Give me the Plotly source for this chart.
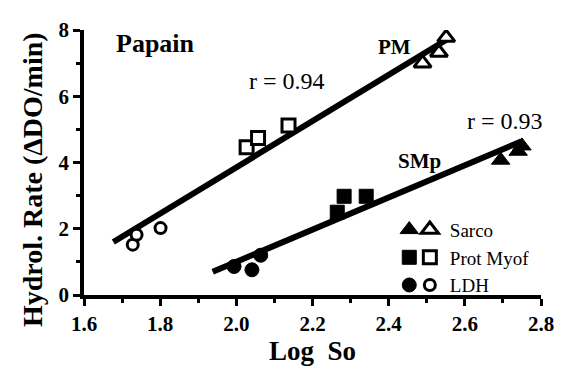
import plotly.graph_objects as go

# ---- data ----
# PM (open symbols)
pm_ldh_x = [1.728, 1.738, 1.801]
pm_ldh_y = [1.52, 1.82, 2.02]
pm_myof_x = [2.027, 2.057, 2.137]
pm_myof_y = [4.46, 4.74, 5.12]
pm_sarco_x = [2.489, 2.532, 2.551]
pm_sarco_y = [7.00, 7.32, 7.77]
# SMp (filled symbols)
smp_ldh_x = [1.994, 2.041, 2.064]
smp_ldh_y = [0.86, 0.76, 1.20]
smp_myof_x = [2.265, 2.283, 2.341]
smp_myof_y = [2.50, 2.98, 2.98]
smp_sarco_x = [2.694, 2.740, 2.750]
smp_sarco_y = [4.07, 4.34, 4.50]
# regression lines (end points)
pm_fit_x = [1.677, 2.554]
pm_fit_y = [1.60, 7.72]
smp_fit_x = [1.938, 2.749]
smp_fit_y = [0.70, 4.64]

xticks = [1.6, 1.8, 2.0, 2.2, 2.4, 2.6, 2.8]
xticklabels = ["1.6", "1.8", "2.0", "2.2", "2.4", "2.6", "2.8"]
yticks = [0, 2, 4, 6, 8]

SERIF = "Liberation Serif, Times New Roman, Times, serif"
fig = go.Figure()

fig.add_trace(go.Scatter(x=pm_fit_x, y=pm_fit_y, mode="lines",
                         line=dict(color="black", width=6), showlegend=False))
fig.add_trace(go.Scatter(x=smp_fit_x, y=smp_fit_y, mode="lines",
                         line=dict(color="black", width=6), showlegend=False))

filled = [("Sarco", smp_sarco_x, smp_sarco_y, "triangle-up", 16),
          ("Prot Myof", smp_myof_x, smp_myof_y, "square", 14),
          ("LDH", smp_ldh_x, smp_ldh_y, "circle", 14)]
opened = [("Sarco", pm_sarco_x, pm_sarco_y, "triangle-up", 15),
          ("Prot Myof", pm_myof_x, pm_myof_y, "square", 13),
          ("LDH", pm_ldh_x, pm_ldh_y, "circle", 11)]

for name, xs, ys, sym, sz in filled:
    fig.add_trace(go.Scatter(x=xs, y=ys, mode="markers", name="",
                             legend="legend",
                             marker=dict(symbol=sym, size=sz, color="black",
                                         line=dict(color="black", width=1))))
for name, xs, ys, sym, sz in opened:
    fig.add_trace(go.Scatter(x=xs, y=ys, mode="markers", name=name,
                             legend="legend2",
                             marker=dict(symbol=sym, size=sz, color="white",
                                         line=dict(color="black", width=3))))

def txt(x, y, text, size):
    fig.add_annotation(x=x, y=y, text=text, showarrow=False,
                       font=dict(family=SERIF, size=size, color="black"))

txt(1.788, 7.6, "<b>Papain</b>", 26)
txt(2.415, 7.5, "<b>PM</b>", 21)
txt(2.132, 6.45, "r = 0.94", 24)
txt(2.705, 5.24, "r = 0.93", 24)
txt(2.48, 4.05, "<b>SMp</b>", 21)

# y-axis title (placed as a rotated annotation to match its position)
fig.add_annotation(x=-0.114, y=0.437, xref="paper", yref="paper", textangle=-90,
                   xanchor="center", yanchor="middle",
                   text="<b>Hydrol. Rate (ΔDO/min)</b>", showarrow=False,
                   font=dict(family=SERIF, size=28, color="black"))

axis_common = dict(showgrid=False, zeroline=False, showline=True, linecolor="black",
                   linewidth=3.5, ticks="outside", tickwidth=3, ticklen=7,
                   tickcolor="black",
                   tickfont=dict(family=SERIF, size=21, color="black", weight="bold"))

fig.update_xaxes(range=[1.6, 2.8], tickvals=xticks, ticktext=xticklabels,
                 minor=dict(dtick=0.1, tick0=1.6, ticks="outside", ticklen=4, tickwidth=3, tickcolor="black"),
                 title=dict(text="<b>Log  So</b>", font=dict(family=SERIF, size=27, color="black"), standoff=2),
                 **axis_common)
fig.update_yaxes(range=[0, 8], tickvals=yticks,
                 minor=dict(dtick=1, tick0=0, ticks="outside", ticklen=4, tickwidth=3, tickcolor="black"),
                 **axis_common)

legend_font = dict(family=SERIF, size=19, color="black")
fig.update_layout(
    width=566, height=369,
    margin=dict(l=84, r=17, t=30, b=69),
    plot_bgcolor="white", paper_bgcolor="white",
    legend=dict(x=0.668, y=0.318, xanchor="left", yanchor="top", bgcolor="rgba(0,0,0,0)",
                font=legend_font, tracegroupgap=0, itemwidth=30),
    legend2=dict(x=0.713, y=0.318, xanchor="left", yanchor="top", bgcolor="rgba(0,0,0,0)",
                 font=legend_font, tracegroupgap=0, itemwidth=30),
)

fig.write_html("out.html")
